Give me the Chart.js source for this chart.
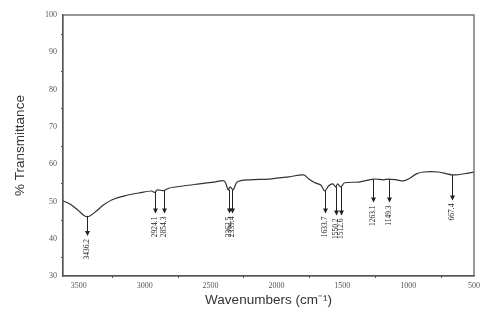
<!DOCTYPE html>
<html lang="en">
<head>
<meta charset="utf-8">
<title>FTIR spectrum</title>
<script src="https://cdn.jsdelivr.net/npm/chart.js@4.4.0/dist/chart.umd.min.js"></script>
<style>
  body { margin: 0; background: #fff; }
  #wrap { width: 481px; height: 322px; }
</style>
</head>
<body>
<div id="wrap"><canvas id="chart" width="481" height="322"></canvas></div>
<script>
// spectrum: wavenumber (cm-1) and % transmittance
const wavenumbers = [3621, 3568, 3508, 3455, 3417, 3364, 3311, 3251, 3152, 3039, 2948, 2925, 2903, 2857, 2812,
  2699, 2585, 2472, 2396, 2366, 2351, 2328, 2298, 2207, 2056, 1905, 1792, 1754, 1708, 1663, 1633, 1603,
  1572, 1550, 1535, 1512, 1482, 1376, 1262, 1187, 1149, 1089, 1036, 998, 937, 884, 771, 658, 544, 499];
const transmittance = [50.2, 49.3, 47.7, 46.1, 46.1, 47.5, 49.1, 50.4, 51.5, 52.3, 52.8, 52.4, 53.1, 52.9, 53.6,
  54.2, 54.7, 55.2, 55.5, 53.1, 53.9, 53.1, 55.2, 55.8, 56.0, 56.6, 57.1, 56.0, 55.0, 54.4, 52.8, 54.2,
  54.7, 53.9, 54.7, 53.9, 55.0, 55.2, 56.0, 55.8, 56.0, 55.8, 55.5, 56.0, 57.4, 57.9, 57.9, 57.1, 57.6, 57.9];

// marked peaks: position, label, where the arrow starts and ends (% T)
const peakPos = [3436, 2924, 2854, 2362, 2339, 1633, 1550, 1512, 1263, 1149, 667];
const peakLabels = ['3436.2', '2924.1', '2854.3', '2362.5', '2339.4', '1633.7', '1550.2', '1512.6', '1263.1', '1149.3', '667.4'];
const peakFrom = [46.0, 52.6, 52.9, 53.1, 53.1, 52.8, 53.9, 53.9, 56.0, 56.0, 57.1];
const peakTo = [41.0, 47.0, 47.0, 47.0, 47.0, 47.0, 46.5, 46.5, 50.0, 50.0, 50.5];

const xTicks = [3500, 3000, 2500, 2000, 1500, 1000, 500];
const xMinor = [3250, 2750, 2250, 1750, 1250, 750];
const yTicks = [30, 40, 50, 60, 70, 80, 90, 100];
const yMinor = [35, 45, 55, 65, 75, 85, 95];

const points = wavenumbers.map((w, i) => ({ x: w, y: transmittance[i] }));

// frame, minor ticks and the peak arrows with their labels
const extras = {
  id: 'extras',
  afterDraw(chart) {
    const ctx = chart.ctx;
    const a = chart.chartArea;
    const xs = chart.scales.x, ys = chart.scales.y;
    ctx.save();
    ctx.strokeStyle = '#555';
    ctx.lineWidth = 1.2;
    ctx.strokeRect(a.left, a.top, a.right - a.left, a.bottom - a.top);

    ctx.lineWidth = 1;
    ctx.beginPath();
    xMinor.forEach(v => {
      const px = Math.round(xs.getPixelForValue(v)) + 0.5;
      ctx.moveTo(px, a.bottom); ctx.lineTo(px, a.bottom + 2);
    });
    yMinor.forEach(v => {
      const py = Math.round(ys.getPixelForValue(v)) + 0.5;
      ctx.moveTo(a.left, py); ctx.lineTo(a.left - 2, py);
    });
    ctx.stroke();

    ctx.strokeStyle = '#222';
    ctx.fillStyle = '#222';
    peakPos.forEach((p, i) => {
      const px = Math.round(xs.getPixelForValue(p)) + 0.5;
      const y0 = ys.getPixelForValue(peakFrom[i]);
      const y1 = ys.getPixelForValue(peakTo[i]);
      ctx.beginPath();
      ctx.moveTo(px, y0); ctx.lineTo(px, y1);
      ctx.stroke();
      ctx.beginPath();
      ctx.moveTo(px - 2.5, y1 - 4); ctx.lineTo(px + 2.5, y1 - 4); ctx.lineTo(px, y1 + 1);
      ctx.closePath();
      ctx.fill();
      ctx.save();
      ctx.translate(px, y1 + 4);
      ctx.rotate(-Math.PI / 2);
      ctx.font = '7.5px "Liberation Serif"';
      ctx.textAlign = 'right';
      ctx.textBaseline = 'middle';
      ctx.fillText(peakLabels[i], 0, 0);
      ctx.restore();
    });
    ctx.restore();
  }
};

new Chart(document.getElementById('chart'), {
  type: 'line',
  data: {
    datasets: [{
      data: points,
      borderColor: '#333',
      borderWidth: 1.2,
      pointRadius: 0,
      tension: 0.3,
      fill: false
    }]
  },
  options: {
    responsive: false,
    animation: false,
    layout: { padding: { top: 15, right: 5, left: 12, bottom: 14 } },
    plugins: { legend: { display: false }, tooltip: { enabled: false } },
    scales: {
      x: {
        type: 'linear',
        reverse: true,
        min: 500,
        max: 3620,
        afterBuildTicks: s => { s.ticks = xTicks.map(v => ({ value: v })); },
        afterFit: s => { s.height = 32; },
        grid: { display: false, drawTicks: true, tickLength: 4, tickColor: '#555' },
        border: { display: true, color: '#555', width: 1.2 },
        ticks: {
          color: '#555', font: { family: 'Liberation Serif', size: 8 }, padding: 1, maxRotation: 0,
          callback: v => String(v)
        },
        title: {
          display: true, text: 'Wavenumbers (cm\u207B\u00B9)', color: '#333',
          font: { family: 'Liberation Sans', size: 13.5 }, padding: { top: 4, bottom: 0 }
        }
      },
      y: {
        min: 30,
        max: 100,
        afterBuildTicks: s => { s.ticks = yTicks.map(v => ({ value: v })); },
        afterFit: s => { s.width = 51; },
        grid: { display: false, drawTicks: true, tickLength: 4, tickColor: '#555' },
        border: { display: true, color: '#555', width: 1.2 },
        ticks: { color: '#555', font: { family: 'Liberation Serif', size: 8 }, padding: 2 },
        title: {
          display: true, text: '% Transmittance', color: '#333',
          font: { family: 'Liberation Sans', size: 13.5 }, padding: { top: 0, bottom: 6 }
        }
      }
    }
  },
  plugins: [extras]
});
</script>
</body>
</html>
